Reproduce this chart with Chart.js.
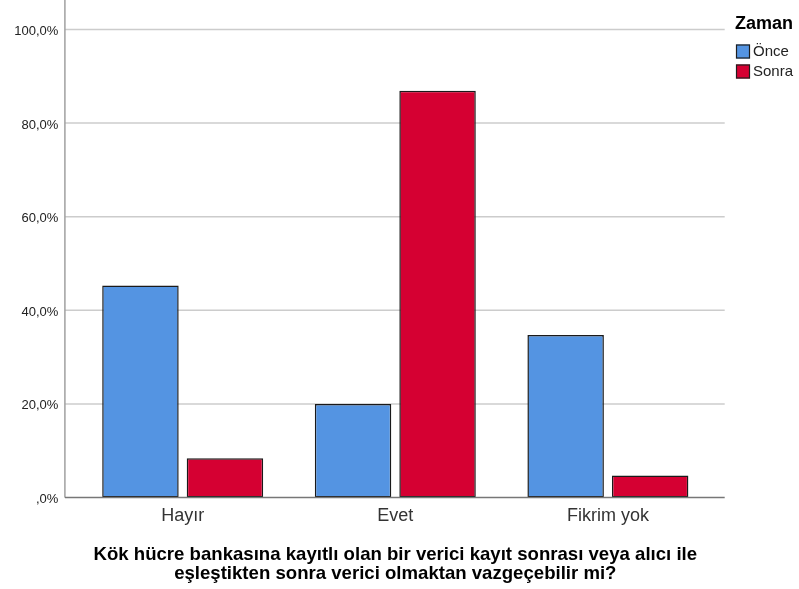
<!DOCTYPE html>
<html>
<head>
<meta charset="utf-8">
<script src="https://cdn.jsdelivr.net/npm/chart.js@4/dist/chart.umd.min.js"></script>
<style>
html, body { margin: 0; padding: 0; background: #fff; }
#wrap { width: 799px; height: 589px; }
</style>
</head>
<body>
<div id="wrap"><canvas id="chartZaman" width="799" height="589"></canvas></div>
<script>
// data
const categories = ["Hayır", "Evet", "Fikrim yok"];
const seriesNames = ["Önce", "Sonra"];
const onceValues = [45.3, 20.0, 34.7];
const sonraValues = [8.4, 86.9, 4.7];
const yTicks = [0, 20, 40, 60, 80, 100];
const legendTitle = "Zaman";
const axisTitle = [
    "Kök hücre bankasına kayıtlı olan bir verici kayıt sonrası veya alıcı ile",
    "eşleştikten sonra verici olmaktan vazgeçebilir mi?"
];

const fontFamily = "'Liberation Sans', Arial, sans-serif";

function formatPct(v) {
    let s = Number(v).toFixed(1).replace(".", ",");
    if (s.indexOf("0,") === 0) s = s.substring(1);
    return s + "%";
}

// gridlines + axis lines, SPSS style (they run a bit past the category band)
const spssFrame = {
    id: "spssFrame",
    beforeDatasetsDraw(chart) {
        let ctx = chart.ctx;
        let area = chart.chartArea;
        let y = chart.scales.y;
        let left = area.left - 11.5;
        let right = area.right + 10.5;

        ctx.save();
        ctx.lineWidth = 1.5;
        ctx.strokeStyle = "#cccccc";
        yTicks.forEach(function (t) {
            if (t === 0) return;
            let py = y.getPixelForValue(t);
            ctx.beginPath();
            ctx.moveTo(left, py);
            ctx.lineTo(right, py);
            ctx.stroke();
        });

        ctx.strokeStyle = "#a0a0a0";
        ctx.beginPath();
        ctx.moveTo(left, 0);
        ctx.lineTo(left, y.getPixelForValue(0));
        ctx.stroke();
        ctx.restore();
    },
    afterDatasetsDraw(chart) {
        let ctx = chart.ctx;
        let area = chart.chartArea;
        let py = chart.scales.y.getPixelForValue(0);
        ctx.save();
        ctx.lineWidth = 1.5;
        ctx.strokeStyle = "#777777";
        ctx.beginPath();
        ctx.moveTo(area.left - 11.5, py);
        ctx.lineTo(area.right + 10.5, py);
        ctx.stroke();
        ctx.restore();
    }
};

// legend drawn by hand so it sits where SPSS puts it
const spssLegend = {
    id: "spssLegend",
    afterDraw(chart) {
        let ctx = chart.ctx;
        ctx.save();
        ctx.textBaseline = "middle";
        ctx.textAlign = "left";
        ctx.fillStyle = "#000";
        ctx.font = "bold 18px " + fontFamily;
        ctx.fillText(legendTitle, 735, 24);

        chart.data.datasets.forEach(function (ds, i) {
            let cy = 51.5 + i * 20;
            ctx.fillStyle = ds.backgroundColor;
            ctx.fillRect(736, cy - 7, 14, 14);
            ctx.strokeStyle = "#1e1e1e";
            ctx.lineWidth = 1.2;
            ctx.strokeRect(736.5, cy - 6.5, 13, 13);
            ctx.fillStyle = "#222";
            ctx.font = "15px " + fontFamily;
            ctx.fillText(ds.label, 753, cy + 0.5);
        });
        ctx.restore();
    }
};

let ctxBar = document.getElementById("chartZaman").getContext("2d");
new Chart(ctxBar, {
    type: "bar",
    data: {
        labels: categories,
        datasets: [{
            label: seriesNames[0],
            data: onceValues,
            backgroundColor: "#5494E2",
            borderColor: "#1a1a1a",
            borderWidth: 1.5,
            borderSkipped: false
        }, {
            label: seriesNames[1],
            data: sonraValues,
            backgroundColor: "#D50032",
            borderColor: "#1a1a1a",
            borderWidth: 1.5,
            borderSkipped: false
        }]
    },
    options: {
        responsive: false,
        animation: false,
        datasets: {
            bar: { categoryPercentage: 0.795, barPercentage: 0.905 }
        },
        layout: { padding: { top: 29.5, right: 84.8, bottom: 0, left: 0 } },
        plugins: {
            legend: { display: false },
            tooltip: { enabled: false }
        },
        scales: {
            x: {
                grid: { display: false, drawTicks: false },
                border: { display: false },
                ticks: {
                    font: { family: fontFamily, size: 18 },
                    color: "#333",
                    padding: 8
                },
                title: {
                    display: true,
                    text: axisTitle,
                    color: "#000",
                    font: { family: fontFamily, size: 18.6, weight: "bold", lineHeight: 1.0 },
                    padding: { top: 0, bottom: 6 }
                },
                afterFit: function (scale) { scale.height = 91.5; }
            },
            y: {
                min: 0,
                max: 100,
                afterBuildTicks: function (scale) {
                    scale.ticks = yTicks.map(function (v) { return { value: v }; });
                },
                grid: { display: false, drawTicks: false },
                border: { display: false },
                ticks: {
                    callback: function (v) { return formatPct(v); },
                    font: { family: fontFamily, size: 13 },
                    color: "#222",
                    padding: 18,
                    labelOffset: 2
                },
                afterFit: function (scale) { scale.width = 76.4; }
            }
        }
    },
    plugins: [spssFrame, spssLegend]
});
</script>
</body>
</html>
